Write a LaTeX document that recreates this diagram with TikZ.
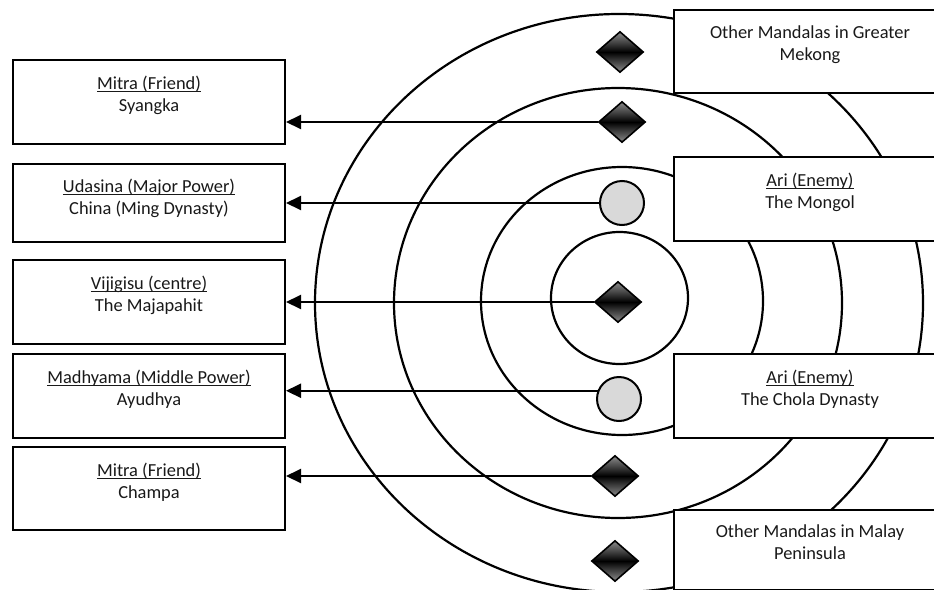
\documentclass[tikz,border=0pt]{standalone}
\usepackage{fontspec}
\setmainfont{Carlito}
\usetikzlibrary{arrows.meta,shapes.geometric}
\newcommand{\ulx}[1]{\leavevmode\setbox0=\hbox{#1}\rlap{\rule[-3.2pt]{\wd0}{1.1pt}}\box0}
\newcommand{\fl}{\rule{0pt}{15.4pt}}
\begin{document}
\begin{tikzpicture}[x=1pt,y=-1pt,
  ring/.style={line width=2.2pt},
  box/.style={draw, line width=2pt, fill=white, rectangle, anchor=north west, inner sep=0pt, minimum width=272pt},
  txt/.style={anchor=north, align=center, inner sep=0pt, font=\fontsize{18.4}{22}\selectfont, text=black!90},
  dia/.style={diamond, draw, line width=1.6pt, minimum width=47pt, minimum height=41pt, inner sep=0pt, aspect=1.15, top color=black!45, bottom color=black!45, middle color=black},
  ball/.style={circle, draw, line width=2pt, fill=black!15, minimum size=44pt, inner sep=0pt},
  arr/.style={line width=2pt, -{Triangle[length=15pt,width=14pt]}}
]
\useasboundingbox (0,0) rectangle (934,589);
\clip (0,0) rectangle (934,589);
% rings
\draw[ring] (619,303) ellipse (304pt and 289pt);
\draw[ring] (618,303) ellipse (224pt and 215pt);
\draw[ring] (622,301) ellipse (141pt and 134pt);
\draw[ring] (619.5,298) ellipse (68.5pt and 66pt);
% right boxes
\node[box, minimum height=83pt] (r1) at (673,9) {};
\node[box, minimum height=84pt] (r2) at (673,156) {};
\node[box, minimum height=84pt] (r3) at (673,353) {};
\node[box, minimum height=80pt] (r4) at (673,509) {};
% left boxes
\node[box, minimum height=84pt] (b1) at (12,59) {};
\node[box, minimum height=78pt] (b2) at (12,163) {};
\node[box, minimum height=84pt] (b3) at (12,259) {};
\node[box, minimum height=84pt] (b4) at (12,353) {};
\node[box, minimum height=83pt] (b5) at (12,446) {};
% texts
\node[txt] (tr1) at ([yshift=-13.6pt]r1.north) {\fl Other Mandalas in Greater\\Mekong};
\node[txt] (tr2) at ([yshift=-14.6pt]r2.north) {\fl\ulx{Ari (Enemy)}\\The Mongol};
\node[txt] (tr3) at ([yshift=-14.6pt]r3.north) {\fl\ulx{Ari (Enemy)}\\The Chola Dynasty};
\node[txt] (tr4) at ([yshift=-12.6pt]r4.north) {\fl Other Mandalas in Malay\\Peninsula};
\node[txt] (tb1) at ([yshift=-14.6pt]b1.north) {\fl\ulx{Mitra (Friend)}\\Syangka};
\node[txt] (tb2) at ([yshift=-13.6pt]b2.north) {\fl\ulx{Udasina (Major Power)}\\China (Ming Dynasty)};
\node[txt] (tb3) at ([yshift=-14.6pt]b3.north) {\fl\ulx{Vijigisu (centre)}\\The Majapahit};
\node[txt] (tb4) at ([yshift=-14.6pt]b4.north) {\fl\ulx{Madhyama (Middle Power)}\\Ayudhya};
\node[txt] (tb5) at ([yshift=-14.6pt]b5.north) {\fl\ulx{Mitra (Friend)}\\Champa};
% markers
\node[dia] (d1) at (620,52) {};
\node[dia] (d2) at (622,122) {};
\node[ball] (c1) at (622,203) {};
\node[dia] (d3) at (618,302) {};
\node[ball] (c2) at (619,399) {};
\node[dia] (d4) at (615,476) {};
\node[dia] (d5) at (615,561) {};
% arrows
\draw[arr] (d2.west) -- (d2.west -| b1.east);
\draw[arr] (c1.west) -- (c1.west -| b2.east);
\draw[arr] (d3.west) -- (d3.west -| b3.east);
\draw[arr] (c2.159) -- (c2.159 -| b4.east);
\draw[arr] (d4.west) -- (d4.west -| b5.east);
\end{tikzpicture}
\end{document}
